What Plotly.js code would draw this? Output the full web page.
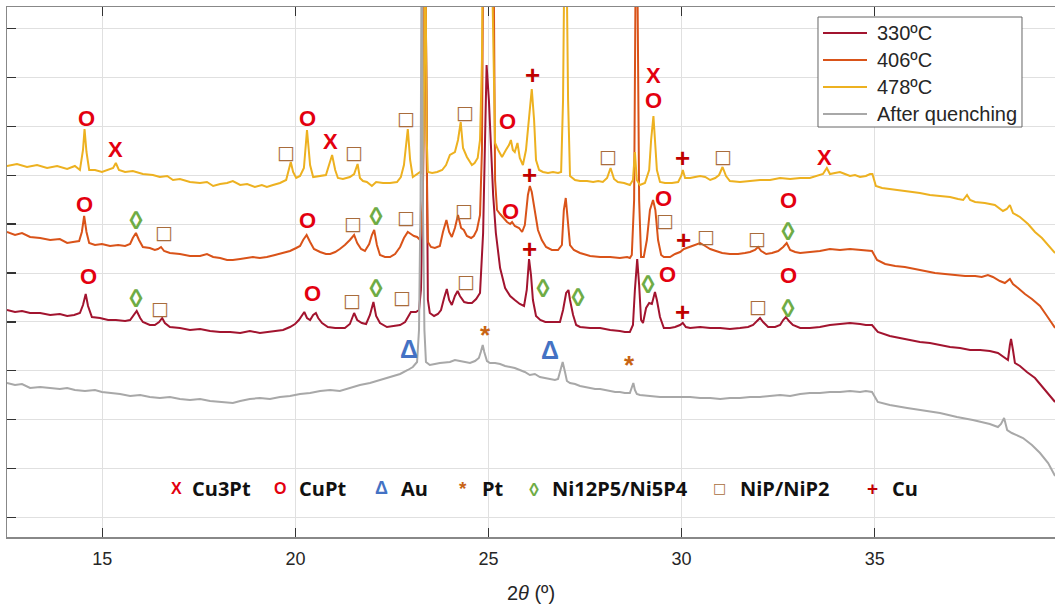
<!DOCTYPE html>
<html><head><meta charset="utf-8">
<script src="https://cdn.plot.ly/plotly-3.0.1.min.js"></script>
<style>html,body{margin:0;padding:0;background:#fff}#chart{width:1055px;height:606px}</style>
</head><body><div id="chart"></div>
<script>
// Series names (legend)
const seriesNames = ['330ºC', '406ºC', '478ºC', 'After quenching'];
const seriesColors = ['#A2142F', '#D95319', '#EDB120', '#A8A8A8'];

// [2theta (deg), intensity (a.u., offset stacked)]
const pts330 = [[12.53,208],[12.74,206],[12.92,207],[13.13,205],[13.39,205],[13.65,203],[13.90,204],[14.09,202],[14.27,203],[14.42,205],[14.50,213],[14.57,224],[14.63,212],[14.73,201],[14.94,200],[15.15,198],[15.35,198],[15.59,197],[15.72,198],[15.79,202],[15.89,207],[15.98,200],[16.05,196],[16.23,193],[16.36,193],[16.47,196],[16.55,200],[16.62,195],[16.75,191],[17.01,190],[17.27,188],[17.53,189],[17.79,187],[18.05,186],[18.31,186],[18.57,185],[18.82,187],[19.08,185],[19.26,186],[19.47,187],[19.68,188],[19.86,191],[19.99,194],[20.09,198],[20.17,203],[20.23,206],[20.30,200],[20.38,198],[20.46,203],[20.53,205],[20.59,200],[20.69,195],[20.84,191],[21.03,190],[21.28,190],[21.41,194],[21.52,205],[21.60,198],[21.72,195],[21.83,194],[21.93,203],[22.02,216],[22.09,202],[22.19,195],[22.37,191],[22.58,192],[22.71,193],[22.84,196],[22.91,201],[22.99,206],[23.12,206],[23.20,208],[23.25,228],[23.30,318],[23.36,598],[23.41,318],[23.43,218],[23.48,205],[23.59,202],[23.69,204],[23.77,208],[23.85,220],[23.92,229],[23.98,218],[24.05,213],[24.13,222],[24.20,227],[24.26,222],[24.37,216],[24.47,215],[24.57,215],[24.68,219],[24.78,225],[24.86,285],[24.91,385],[24.95,453],[25.01,418],[25.06,368],[25.12,323],[25.19,285],[25.30,250],[25.43,230],[25.56,222],[25.68,218],[25.81,214],[25.92,212],[25.99,228],[26.05,259],[26.10,243],[26.15,218],[26.23,202],[26.34,198],[26.47,196],[26.59,196],[26.72,196],[26.85,196],[26.93,208],[27.01,225],[27.07,228],[27.11,218],[27.19,203],[27.27,193],[27.37,191],[27.63,190],[27.89,190],[28.15,188],[28.40,187],[28.53,186],[28.66,186],[28.74,193],[28.79,228],[28.85,259],[28.90,233],[28.95,198],[29.00,195],[29.08,210],[29.16,215],[29.23,214],[29.31,226],[29.36,218],[29.44,201],[29.54,190],[29.70,190],[29.83,191],[29.96,193],[30.03,195],[30.11,191],[30.22,190],[30.48,191],[30.74,190],[31.00,190],[31.25,189],[31.51,190],[31.72,191],[31.85,193],[31.95,197],[32.03,200],[32.11,196],[32.24,191],[32.42,191],[32.55,193],[32.63,198],[32.70,201],[32.78,197],[32.88,193],[33.07,190],[33.32,190],[33.58,191],[33.84,193],[34.10,194],[34.36,195],[34.62,194],[34.77,193],[34.93,193],[35.08,186],[35.39,182],[35.66,180],[35.91,178],[36.17,176],[36.43,175],[36.69,173],[36.95,171],[37.21,170],[37.47,168],[37.73,168],[37.98,167],[38.19,165],[38.37,160],[38.45,158],[38.50,173],[38.53,179],[38.58,168],[38.63,155],[38.76,152],[38.94,146],[39.15,140],[39.36,130],[39.54,122],[39.67,116]];

const pts406 = [[12.53,286],[12.74,283],[12.92,285],[13.13,281],[13.39,280],[13.65,278],[13.90,279],[14.09,275],[14.24,276],[14.40,277],[14.47,286],[14.53,302],[14.59,286],[14.66,275],[14.81,273],[14.99,274],[15.20,272],[15.41,273],[15.59,272],[15.72,274],[15.79,280],[15.87,285],[15.95,278],[16.05,271],[16.23,270],[16.36,268],[16.44,269],[16.52,271],[16.60,267],[16.75,265],[17.01,264],[17.27,262],[17.53,262],[17.71,264],[17.87,261],[18.05,260],[18.23,258],[18.38,258],[18.57,259],[18.75,260],[18.90,261],[19.08,260],[19.26,261],[19.47,263],[19.68,265],[19.86,267],[20.02,270],[20.12,272],[20.20,278],[20.29,283],[20.38,276],[20.48,269],[20.64,266],[20.79,264],[20.90,264],[21.03,266],[21.15,269],[21.28,273],[21.41,278],[21.52,283],[21.60,275],[21.70,269],[21.80,267],[21.91,274],[21.98,283],[22.04,288],[22.11,273],[22.19,263],[22.32,261],[22.45,261],[22.58,264],[22.71,271],[22.81,280],[22.91,286],[22.99,284],[23.07,282],[23.15,281],[23.23,278],[23.30,318],[23.36,598],[23.41,318],[23.43,276],[23.51,271],[23.61,270],[23.74,272],[23.82,286],[23.91,298],[23.98,286],[24.05,281],[24.13,290],[24.21,303],[24.29,290],[24.36,288],[24.44,282],[24.55,280],[24.62,282],[24.70,288],[24.78,303],[24.83,368],[24.88,668],[25.01,718],[25.12,638],[25.17,338],[25.22,308],[25.30,304],[25.40,300],[25.48,296],[25.56,294],[25.61,296],[25.68,292],[25.79,290],[25.87,286],[25.94,293],[26.02,323],[26.07,332],[26.12,326],[26.20,306],[26.28,288],[26.38,278],[26.49,271],[26.64,268],[26.80,268],[26.90,273],[26.95,308],[27.00,320],[27.06,298],[27.11,273],[27.21,268],[27.37,265],[27.63,262],[27.89,261],[28.15,261],[28.40,260],[28.59,261],[28.66,260],[28.71,263],[28.77,318],[28.83,668],[28.90,318],[28.95,261],[29.02,261],[29.10,278],[29.18,308],[29.26,318],[29.32,308],[29.39,278],[29.47,263],[29.54,261],[29.70,261],[29.83,264],[29.96,266],[30.06,269],[30.22,271],[30.35,273],[30.48,275],[30.61,272],[30.74,269],[30.89,267],[31.05,265],[31.25,264],[31.46,264],[31.64,265],[31.77,266],[31.90,268],[31.98,271],[32.06,267],[32.19,264],[32.34,265],[32.50,267],[32.63,271],[32.72,275],[32.81,268],[32.94,266],[33.07,265],[33.32,266],[33.58,267],[33.84,269],[34.10,268],[34.36,269],[34.62,268],[34.77,267],[34.93,267],[35.06,258],[35.27,254],[35.53,252],[35.78,251],[36.04,249],[36.30,247],[36.56,245],[36.82,244],[37.08,243],[37.34,242],[37.60,242],[37.77,241],[37.93,243],[38.06,241],[38.24,237],[38.37,235],[38.50,239],[38.58,234],[38.71,230],[38.89,224],[39.07,219],[39.28,212],[39.46,202],[39.67,190]];

const pts478 = [[12.53,352],[12.79,354],[13.05,351],[13.31,353],[13.57,350],[13.83,352],[14.09,349],[14.29,352],[14.42,348],[14.50,368],[14.54,389],[14.59,366],[14.66,348],[14.81,348],[14.99,346],[15.15,348],[15.28,350],[15.35,355],[15.43,348],[15.59,346],[15.79,347],[16.05,344],[16.31,343],[16.49,341],[16.68,342],[16.83,338],[17.01,339],[17.27,336],[17.53,335],[17.71,336],[17.87,332],[18.05,334],[18.23,335],[18.38,337],[18.57,333],[18.75,334],[18.95,331],[19.13,333],[19.26,331],[19.42,333],[19.60,335],[19.76,338],[19.82,346],[19.88,356],[19.94,346],[20.02,340],[20.12,342],[20.22,350],[20.30,388],[20.38,353],[20.46,341],[20.64,342],[20.79,343],[20.87,353],[20.95,363],[21.03,348],[21.10,340],[21.23,339],[21.41,341],[21.52,344],[21.61,354],[21.67,340],[21.75,337],[21.85,336],[21.98,332],[22.09,336],[22.27,335],[22.45,335],[22.63,336],[22.73,341],[22.81,353],[22.91,389],[22.97,358],[23.04,341],[23.15,344],[23.23,346],[23.28,345],[23.32,378],[23.36,598],[23.40,378],[23.43,346],[23.54,345],[23.67,346],[23.80,348],[23.90,353],[24.00,363],[24.13,366],[24.21,378],[24.28,396],[24.34,370],[24.44,361],[24.57,353],[24.64,355],[24.72,360],[24.78,378],[24.83,458],[24.86,618],[24.96,668],[25.06,618],[25.12,458],[25.17,375],[25.25,368],[25.35,361],[25.45,368],[25.53,373],[25.58,378],[25.63,368],[25.68,366],[25.75,375],[25.81,360],[25.89,353],[25.97,368],[26.05,398],[26.12,429],[26.18,398],[26.23,358],[26.31,348],[26.41,346],[26.54,345],[26.67,346],[26.80,345],[26.88,346],[26.93,418],[26.99,668],[27.06,418],[27.11,342],[27.24,338],[27.37,337],[27.55,337],[27.71,336],[27.84,337],[27.96,336],[28.07,340],[28.16,350],[28.25,339],[28.35,336],[28.51,335],[28.66,333],[28.74,338],[28.79,366],[28.84,338],[28.92,333],[29.05,335],[29.16,348],[29.21,378],[29.27,402],[29.31,378],[29.36,348],[29.44,336],[29.57,335],[29.75,335],[29.91,336],[29.99,342],[30.03,348],[30.09,340],[30.22,340],[30.35,341],[30.48,342],[30.61,341],[30.74,338],[30.87,340],[30.97,343],[31.06,351],[31.15,342],[31.25,337],[31.51,336],[31.77,337],[32.03,338],[32.29,338],[32.55,340],[32.81,339],[33.07,340],[33.32,340],[33.53,342],[33.66,344],[33.76,350],[33.84,344],[33.97,345],[34.10,346],[34.23,344],[34.36,342],[34.49,343],[34.62,341],[34.77,342],[34.88,344],[34.94,344],[35.03,332],[35.19,330],[35.39,329],[35.66,328],[35.91,327],[36.17,325],[36.43,323],[36.69,322],[36.95,321],[37.16,319],[37.29,318],[37.39,323],[37.47,318],[37.60,316],[37.85,315],[38.11,313],[38.32,307],[38.42,309],[38.50,313],[38.58,305],[38.76,301],[38.97,294],[39.15,286],[39.33,280],[39.49,273],[39.67,265]];

const ptsQuench = [[12.53,135],[12.74,133],[12.92,134],[13.13,130],[13.39,131],[13.65,130],[13.90,129],[14.09,130],[14.29,128],[14.55,127],[14.81,128],[14.99,126],[15.20,125],[15.46,124],[15.72,122],[15.98,123],[16.23,121],[16.49,120],[16.75,121],[17.01,119],[17.27,118],[17.53,119],[17.79,117],[18.05,116],[18.38,115],[18.57,117],[18.82,119],[19.08,120],[19.34,119],[19.60,121],[19.86,122],[20.12,124],[20.38,125],[20.64,127],[20.90,128],[21.15,127],[21.41,130],[21.67,133],[21.93,135],[22.19,138],[22.45,141],[22.71,144],[22.91,148],[23.04,151],[23.15,156],[23.20,188],[23.24,318],[23.27,598],[23.30,318],[23.34,188],[23.38,156],[23.48,153],[23.61,154],[23.74,155],[24.00,156],[24.13,158],[24.26,157],[24.39,156],[24.52,155],[24.65,157],[24.75,160],[24.80,166],[24.85,173],[24.89,166],[24.96,157],[25.04,155],[25.17,155],[25.30,154],[25.43,152],[25.56,151],[25.68,150],[25.81,148],[25.94,146],[26.07,143],[26.20,144],[26.33,141],[26.46,140],[26.59,139],[26.72,138],[26.80,139],[26.85,146],[26.92,156],[26.98,146],[27.03,137],[27.11,135],[27.24,134],[27.37,132],[27.50,131],[27.63,130],[27.76,129],[27.89,129],[28.02,128],[28.15,127],[28.28,126],[28.40,126],[28.53,125],[28.66,125],[28.71,130],[28.75,135],[28.79,128],[28.84,124],[28.92,123],[29.18,122],[29.44,121],[29.70,121],[29.96,121],[30.22,121],[30.48,120],[30.74,120],[31.00,119],[31.25,120],[31.51,120],[31.77,121],[32.03,121],[32.29,122],[32.55,123],[32.81,122],[33.07,124],[33.32,125],[33.58,125],[33.84,126],[34.10,126],[34.36,127],[34.62,126],[34.77,127],[34.93,126],[35.08,116],[35.39,113],[35.84,110],[36.30,107],[36.69,105],[37.13,101],[37.54,98],[37.98,94],[38.19,91],[38.27,94],[38.35,100],[38.43,88],[38.55,85],[38.84,80],[39.07,73],[39.28,65],[39.49,55],[39.67,42]];

// Phase labels placed over the peaks: [2theta, intensity, symbol]
const peakLabels = [
  [14.58,400,'O'],[15.35,369,'X'],[19.76,366,'□'],[20.30,400,'O'],[20.90,377,'X'],[21.52,366,'□'],[22.86,400,'□'],[24.39,406,'□'],[25.48,397,'O'],[26.13,443,'+'],[28.09,362,'□'],[29.26,443,'X'],[29.28,418,'O'],[30.01,360,'+'],[31.07,362,'□'],[33.71,361,'X'],
  [14.55,314,'O'],[15.87,300,'◊'],[16.60,286,'□'],[20.30,298,'O'],[21.49,295,'□'],[22.09,304,'◊'],[22.86,301,'□'],[24.37,308,'□'],[25.58,307,'O'],[26.05,343,'+'],[29.54,320,'O'],[29.58,298,'□'],[30.06,278,'+'],[30.63,282,'□'],[31.95,280,'□'],[32.76,318,'O'],[32.76,289,'◊'],
  [14.63,242,'O'],[15.87,222,'◊'],[16.49,210,'□'],[20.43,225,'O'],[21.47,218,'□'],[22.09,232,'◊'],[22.76,221,'□'],[24.42,237,'□'],[26.05,269,'+'],[26.41,232,'◊'],[27.32,223,'◊'],[29.13,236,'◊'],[29.63,244,'O'],[30.01,206,'+'],[31.98,212,'□'],[32.76,243,'O'],[32.76,212,'◊'],
  [22.94,169,'Δ'],[24.91,183,'*'],[26.59,168,'Δ'],[28.66,153,'*']
];

// Key of phases
const keySymbols = ['X','O','Δ','*','◊','□','+'];
const keyNames = ['Cu3Pt','CuPt','Au','Pt','Ni12P5/Ni5P4','NiP/NiP2','Cu'];

const symStyle = {
  'O': {color:'#E3000F', family:'Arial, Liberation Sans', size:22, weight:'bold'},
  'X': {color:'#E3000F', family:'Arial, Liberation Sans', size:22, weight:'bold'},
  '+': {color:'#C00000', family:'Arial, Liberation Sans', size:26, weight:'bold'},
  '□': {color:'#A86C3C', family:'DejaVu Sans', size:19, weight:'normal'},
  '◊': {color:'#6FAC46', family:'Noto Sans CJK JP, DejaVu Sans', size:22, weight:'bold'},
  'Δ': {color:'#4472C4', family:'Arial, Liberation Sans', size:25, weight:'bold'},
  '*': {color:'#C86414', family:'Arial, Liberation Sans', size:26, weight:'bold'}
};

const allPts = [pts330, pts406, pts478, ptsQuench];
const traces = allPts.map((p, i) => ({
  type:'scatter', mode:'lines', name: seriesNames[i], showlegend:false,
  x: p.map(d => d[0]), y: p.map(d => d[1]),
  line:{color: seriesColors[i], width:2},
  hoverinfo:'skip'
}));

const annotations = peakLabels.map(l => {
  const s = symStyle[l[2]];
  return {x:l[0], y:l[1], xref:'x', yref:'y', text:l[2], showarrow:false,
    xanchor:'center', yanchor:'middle',
    font:{family:s.family, size:s.size, color:s.color, weight:s.weight}};
});

// key row (paper coordinates)
const keySymX = [0.1622, 0.2605, 0.3578, 0.4351, 0.5029, 0.6794, 0.8263];
const keyTxtX = [0.1746, 0.2767, 0.3740, 0.4513, 0.5181, 0.6975, 0.8426];
keySymbols.forEach((s, i) => {
  const st = symStyle[s];
  annotations.push({x:keySymX[i], y:0.092, xref:'paper', yref:'paper', text:s, showarrow:false,
    xanchor:'center', yanchor:'middle', font:{family:st.family, size:Math.round(st.size*0.72), color:st.color, weight:st.weight}});
  annotations.push({x:keyTxtX[i], y:0.092, xref:'paper', yref:'paper', text:keyNames[i], showarrow:false,
    xanchor:'left', yanchor:'middle', font:{family:'Open Sans, Noto Sans, sans-serif', size:20, color:'#111', weight:'bold'}});
});

// legend box (drawn from the series names and colours)
const legX0 = 0.77385, legX1 = 0.96851, legY0 = 0.77358, legY1 = 0.98113;
const legRows = [0.95094, 0.9, 0.84906, 0.79811];
const shapes = [{type:'rect', xref:'paper', yref:'paper', x0:legX0, x1:legX1, y0:legY0, y1:legY1,
  fillcolor:'#fff', line:{color:'#666', width:1}, layer:'above'}];
seriesNames.forEach((n, i) => {
  shapes.push({type:'line', xref:'paper', yref:'paper', x0:0.77863, x1:0.82061, y0:legRows[i], y1:legRows[i],
    line:{color:seriesColors[i], width:2}, layer:'above'});
  annotations.push({x:0.82824, y:legRows[i], xref:'paper', yref:'paper', text:n, showarrow:false,
    xanchor:'left', yanchor:'middle', font:{family:'Arial, Liberation Sans, sans-serif', size:20, color:'#262626'}});
});

const layout = {
  width:1055, height:606,
  margin:{l:7, r:0, t:7, b:69, pad:0},
  paper_bgcolor:'#fff', plot_bgcolor:'#fff',
  font:{family:'Arial, Liberation Sans, sans-serif', color:'#262626'},
  showlegend:false,
  xaxis:{range:[12.532,39.668], tick0:15, dtick:5, ticks:'inside', ticklen:9, tickwidth:1.2,
    tickcolor:'#333', showline:true, linecolor:'#888', linewidth:1.5, mirror:'ticks',
    showgrid:true, gridcolor:'#e0e0e0', gridwidth:1, zeroline:false,
    tickfont:{size:18, color:'#262626'}, ticklabelstandoff:5,
    title:{text:'2<i>θ</i> (º)', font:{size:20, color:'#262626'}, standoff:18}},
  yaxis:{range:[-19,511], tick0:0.3, dtick:48.94, ticks:'inside', ticklen:9, tickwidth:1.2,
    tickcolor:'#333', showticklabels:false, showline:true, linecolor:'#888', linewidth:1.5,
    mirror:false, showgrid:true, gridcolor:'#e0e0e0', gridwidth:1, zeroline:false},
  shapes: shapes,
  annotations: annotations
};

Plotly.newPlot('chart', traces, layout, {displayModeBar:false, staticPlot:true});
</script>
</body></html>
